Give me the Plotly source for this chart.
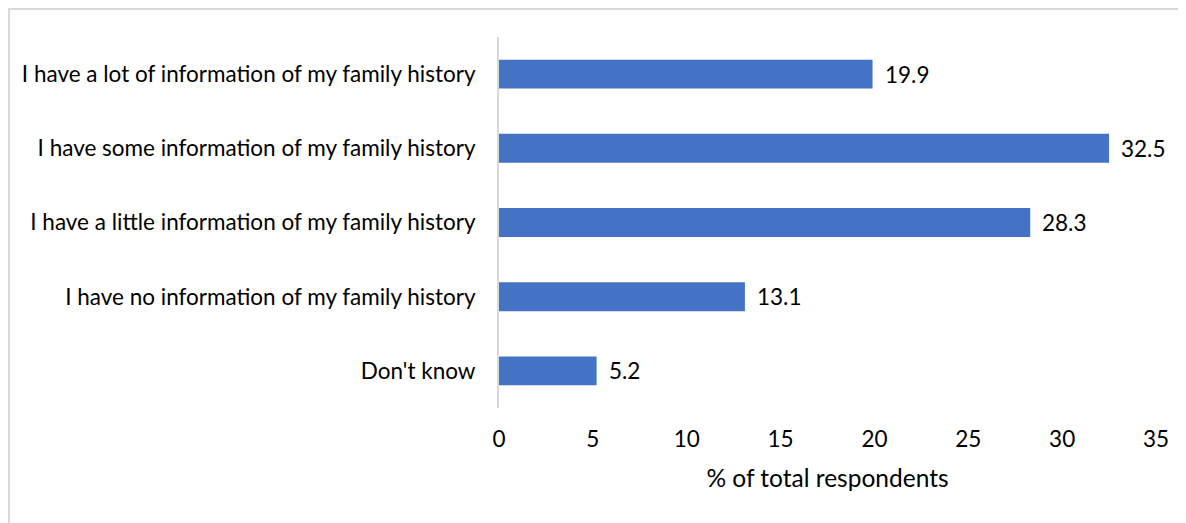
import plotly.graph_objects as go

categories = [
    "I have a lot of information of my family history",
    "I have some information of my family history",
    "I have a little information of my family history",
    "I have no information of my family history",
    "Don't know",
]
values = [19.9, 32.5, 28.3, 13.1, 5.2]
x_ticks = [0, 5, 10, 15, 20, 25, 30, 35]

OFF = 8  # page body margin
W, H = 1186 - OFF, 523 - OFF
L = 499 - OFF
T = 37 - OFF
R = W - (1156 - OFF)
B = H - (408 - OFF)
pw, ph = W - L - R, H - T - B

FONT = "Lato, Carlito, Calibri, sans-serif"
FS = 22.5

fig = go.Figure()
fig.add_trace(go.Bar(
    y=categories, x=values, orientation="h",
    marker=dict(color="#4472C4", line=dict(width=0)),
    width=0.39, hoverinfo="skip",
))

for c, v in zip(categories, values):
    fig.add_annotation(x=v, y=c, text=f"{v:.1f}", showarrow=False,
                       xanchor="left", yanchor="middle", xshift=10,
                       font=dict(family=FONT, size=FS, color="#000000"))

# figure-pixel -> paper coordinates
def fx(xp):
    return (xp - L) / pw

def fy(yp):
    return (H - B - yp) / ph

fig.add_shape(type="line", xref="paper", yref="paper",
              x0=fx(1), x1=fx(W), y0=fy(1), y1=fy(1),
              line=dict(color="#d9d9d9", width=2))
fig.add_shape(type="line", xref="paper", yref="paper",
              x0=fx(1), x1=fx(1), y0=fy(0), y1=fy(H),
              line=dict(color="#d9d9d9", width=2))

fig.update_layout(
    width=W, height=H,
    margin=dict(l=L, r=R, t=T, b=B, pad=0),
    paper_bgcolor="white", plot_bgcolor="white",
    showlegend=False,
    font=dict(family=FONT, size=FS, color="#000000"),
    xaxis=dict(
        range=[0, 35], tickvals=x_ticks, ticktext=[str(t) for t in x_ticks],
        showgrid=False, zeroline=False, showline=False, ticks="",
        ticklabelstandoff=15,
        tickfont=dict(family=FONT, size=FS, color="#000000"),
        title=dict(text="% of total respondents", standoff=19,
                   font=dict(family=FONT, size=24.5, color="#000000")),
        fixedrange=True,
    ),
    yaxis=dict(
        categoryorder="array", categoryarray=categories[::-1],
        range=[-0.5, 4.5],
        showgrid=False, zeroline=False, showline=True,
        linecolor="#d9d9d9", linewidth=2, ticks="",
        ticklabelstandoff=17,
        tickfont=dict(family=FONT, size=FS, color="#000000"),
        fixedrange=True,
    ),
)

fig.write_html("out.html")
